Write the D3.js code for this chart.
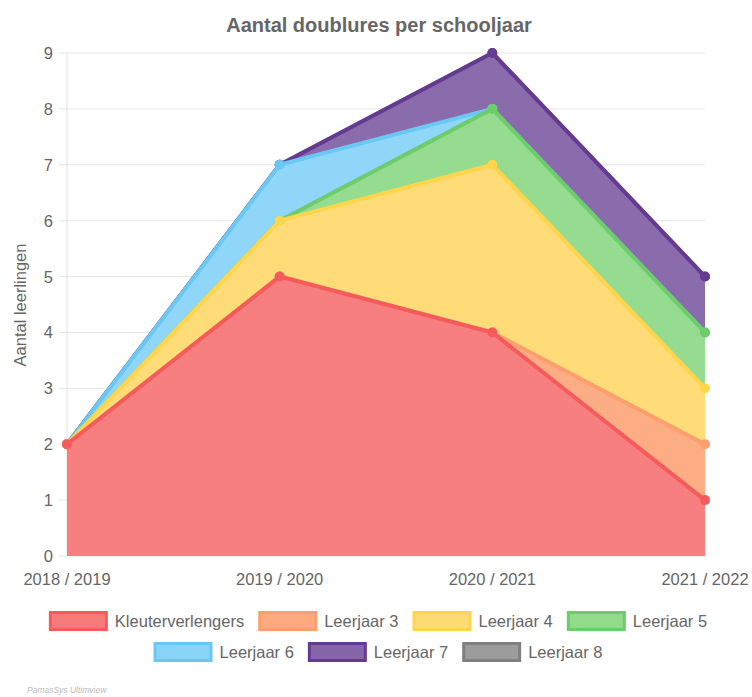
<!DOCTYPE html>
<html>
<head>
<meta charset="utf-8">
<script src="https://cdn.jsdelivr.net/npm/d3@7"></script>
<style>
  body { margin: 0; background: #fff; }
  svg { font-family: "Liberation Sans", Arial, sans-serif; }
</style>
</head>
<body>
<svg width="752" height="697"></svg>
<script>
// Data
var years = ['2018 / 2019', '2019 / 2020', '2020 / 2021', '2021 / 2022'];
var names = ['Kleuterverlengers', 'Leerjaar 3', 'Leerjaar 4', 'Leerjaar 5', 'Leerjaar 6', 'Leerjaar 7', 'Leerjaar 8'];
var kleuter = [2, 5, 4, 1];
var lj3 = [0, 0, 0, 1];
var lj4 = [0, 1, 3, 1];
var lj5 = [0, 0, 1, 1];
var lj6 = [0, 1, 0, 0];
var lj7 = [0, 0, 1, 1];
var lj8 = [0, 0, 0, 0];
var yTicks = [0, 1, 2, 3, 4, 5, 6, 7, 8, 9];

var values = [kleuter, lj3, lj4, lj5, lj6, lj7, lj8];
var fills   = ['#f77a7a', '#fdaa7e', '#ffdb73', '#92db8b', '#8bd4f9', '#8566a9', '#9c9c9c'];
var strokes = ['#f65b5b', '#fd9e6c', '#ffd54c', '#6dcd6a', '#6ac8f5', '#653a93', '#808080'];

var table = years.map(function(y, i) {
  var row = {year: y};
  names.forEach(function(n, k) { row[n] = values[k][i]; });
  return row;
});
var stacked = d3.stack().keys(names)(table);

var svg = d3.select('svg');
var pLeft = 67, pRight = 705, pTop = 53, pBottom = 556;
var fs = '16.5px';

var x = d3.scalePoint().domain(years).range([pLeft, pRight]);
var y = d3.scaleLinear().domain([0, 9]).range([pBottom, pTop]);

// Title
svg.append('text')
   .attr('x', 379).attr('y', 32)
   .attr('text-anchor', 'middle')
   .attr('font-size', '20px').attr('font-weight', 'bold')
   .attr('fill', '#666')
   .text('Aantal doublures per schooljaar');

// Grid
svg.append('g').selectAll('line').data(yTicks).enter().append('line')
   .attr('x1', pLeft - 8).attr('x2', pRight)
   .attr('y1', d => y(d)).attr('y2', d => y(d))
   .attr('stroke', '#e6e6e6').attr('stroke-width', 1);
svg.append('line')
   .attr('x1', pLeft).attr('x2', pLeft).attr('y1', pTop).attr('y2', pBottom)
   .attr('stroke', '#e0e0e0');

// Y tick labels
svg.append('g').selectAll('text').data(yTicks).enter().append('text')
   .attr('x', pLeft - 14).attr('y', d => y(d) + 6)
   .attr('text-anchor', 'end')
   .attr('font-size', fs).attr('fill', '#666')
   .text(d => d);

// X tick labels
svg.append('g').selectAll('text').data(years).enter().append('text')
   .attr('x', d => x(d)).attr('y', 585)
   .attr('text-anchor', 'middle')
   .attr('font-size', fs).attr('fill', '#666')
   .text(d => d);

// Y axis title
svg.append('text')
   .attr('transform', 'translate(26,305) rotate(-90)')
   .attr('text-anchor', 'middle')
   .attr('font-size', fs).attr('fill', '#666')
   .text('Aantal leerlingen');

// Areas (drawn last dataset first, so first is on top)
var area = d3.area().x(d => x(d.data.year)).y0(d => y(d[0])).y1(d => y(d[1]));
var line = d3.line().x(d => x(d.data.year)).y(d => y(d[1]));

var layers = svg.append('g').selectAll('g').data(stacked.slice().reverse()).enter().append('g');
layers.append('path')
   .attr('d', area)
   .attr('fill', d => fills[d.index])
   .attr('fill-opacity', 0.96);
layers.append('path')
   .attr('d', line)
   .attr('fill', 'none')
   .attr('stroke', d => strokes[d.index])
   .attr('stroke-width', 4)
   .attr('stroke-linejoin', 'round');
layers.selectAll('circle').data(d => d.map(p => ({p: p, k: d.index}))).enter().append('circle')
   .attr('cx', d => x(d.p.data.year))
   .attr('cy', d => y(d.p[1]))
   .attr('r', 5)
   .attr('fill', d => strokes[d.k]);

// Legend
var rows = [[0, 1, 2, 3], [4, 5, 6]];
var rowY = [621, 652];
var boxW = 59, boxH = 20, gapText = 7, gapItem = 14;
var legend = svg.append('g');
rows.forEach(function(row, r) {
  var items = legend.append('g');
  var widths = row.map(function(k) {
    var t = items.append('text').attr('font-size', fs).attr('fill', '#666').text(names[k]);
    t.attr('data-k', k);
    return t.node().getComputedTextLength();
  });
  var total = d3.sum(widths) + row.length * (boxW + gapText) + (row.length - 1) * gapItem;
  var cx = 378 - total / 2;
  row.forEach(function(k, j) {
    items.append('rect')
       .attr('x', cx + 1.5).attr('y', rowY[r] - boxH / 2 + 1.5)
       .attr('width', boxW - 3).attr('height', boxH - 3)
       .attr('fill', fills[k])
       .attr('stroke', strokes[k]).attr('stroke-width', 3);
    items.select('text[data-k="' + k + '"]')
       .attr('x', cx + boxW + gapText).attr('y', rowY[r] + 6);
    cx += boxW + gapText + widths[j] + gapItem;
  });
});

// Footer
svg.append('text')
   .attr('x', 27).attr('y', 693)
   .attr('font-size', '8.5px').attr('font-style', 'italic')
   .attr('fill', '#bbb')
   .text('PamasSys Ultimview');
</script>
</body>
</html>
